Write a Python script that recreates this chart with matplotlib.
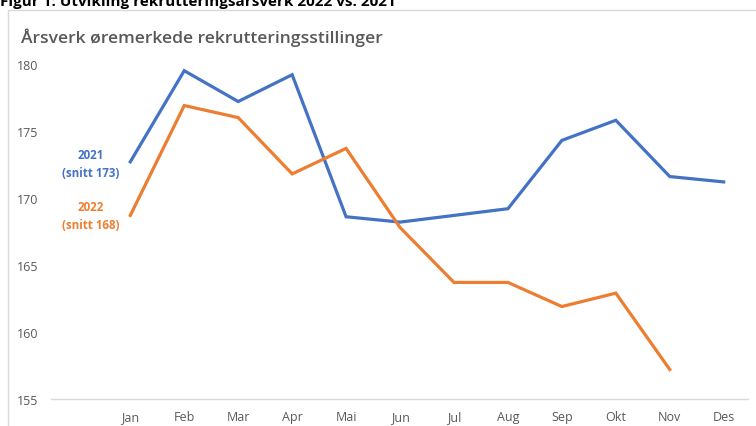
import matplotlib
matplotlib.use("Agg")
import matplotlib.pyplot as plt
from matplotlib.patches import Rectangle

plt.rcParams['font.family'] = ['Open Sans', 'DejaVu Sans']

# data
maaneder = ["Jan", "Feb", "Mar", "Apr", "Mai", "Jun", "Jul", "Aug", "Sep", "Okt", "Nov", "Des"]
aar_2021 = [172.7, 179.5, 177.2, 179.2, 168.6, 168.2, 168.7, 169.2, 174.3, 175.8, 171.6, 171.2]
aar_2022 = [168.7, 176.9, 176.0, 171.8, 173.7, 167.8, 163.7, 163.7, 161.9, 162.9, 157.2]
etikett_2021 = "2021\n(snitt 173)"
etikett_2022 = "2022\n(snitt 168)"

blaa = '#4472C4'
oransje = '#ED7D31'
graa = '#595959'

fig = plt.figure(figsize=(7.56, 4.27), dpi=100)

# ramme rundt diagrammet
ramme = Rectangle((8 / 756, -0.05), 1.0, 1 - 11 / 427 + 0.05, transform=fig.transFigure,
                  fill=False, edgecolor='#D9D9D9', linewidth=1.0)
fig.patches.append(ramme)

# overskriften er kuttet i toppen, som i originalen
fig.text(0.0, 1 - 6 / 427, "Figur 1: Utvikling rekrutteringsårsverk 2022 vs. 2021",
         fontsize=11, fontweight='bold', color='black', ha='left', va='baseline')
fig.text(21 / 756, 1 - 43 / 427, "Årsverk øremerkede rekrutteringsstillinger",
         fontsize=12.6, fontweight='semibold', color=graa, ha='left', va='baseline')

ax = fig.add_axes([51 / 756, 1 - 400 / 427, (748 - 51) / 756, (400 - 65) / 427])

x = list(range(len(maaneder)))
ax.plot(x, aar_2021, color=blaa, linewidth=2.3, solid_joinstyle='miter')
ax.plot(x[:len(aar_2022)], aar_2022, color=oransje, linewidth=2.3, solid_joinstyle='miter')

ax.text(-0.74, 172.6, etikett_2021, color=blaa, fontsize=8.3, fontweight='bold',
        ha='center', va='center', linespacing=1.5)
ax.text(-0.74, 168.7, etikett_2022, color=oransje, fontsize=8.3, fontweight='bold',
        ha='center', va='center', linespacing=1.5)

ax.set_xlim(-1.47, 11.45)
ax.set_ylim(155, 180)
ax.set_yticks([155, 160, 165, 170, 175, 180])
ax.set_xticks(x)
ax.set_xticklabels(maaneder)

for side in ['top', 'right', 'left']:
    ax.spines[side].set_visible(False)
ax.spines['bottom'].set_color('#D9D9D9')
ax.spines['bottom'].set_linewidth(1.0)
ax.tick_params(axis='both', length=0, labelsize=9, labelcolor=graa)
ax.tick_params(axis='y', pad=9)
ax.tick_params(axis='x', pad=8)
ax.patch.set_alpha(0)

fig.savefig("out.png", dpi=100)
